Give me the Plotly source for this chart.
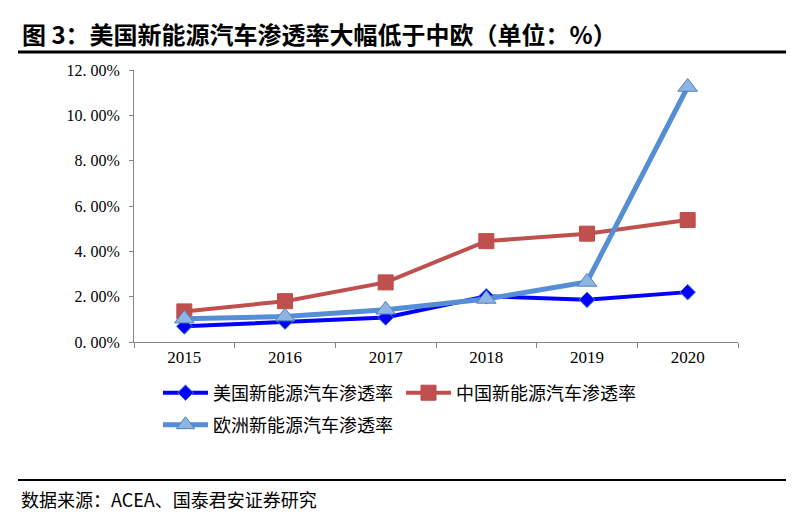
import plotly.graph_objects as go

years = ["2015", "2016", "2017", "2018", "2019", "2020"]
us_vals = [0.69, 0.90, 1.08, 2.02, 1.86, 2.20]
cn_vals = [1.35, 1.80, 2.63, 4.45, 4.78, 5.38]
eu_vals = [1.03, 1.12, 1.42, 1.90, 2.65, 11.25]
series_names = ["美国新能源汽车渗透率", "中国新能源汽车渗透率", "欧洲新能源汽车渗透率"]
y_tickvals = [0, 2, 4, 6, 8, 10, 12]
y_ticktext = ["0. 00%", "2. 00%", "4. 00%", "6. 00%", "8. 00%", "10. 00%", "12. 00%"]
title_text = "图 3：美国新能源汽车渗透率大幅低于中欧（单位：%）"
source_text = "数据来源：ACEA、国泰君安证券研究"

# page body has an 8px margin: design in screen coords and shift by OFF
OFF = 8
W, H = 799 - 2 * OFF, 523 - 2 * OFF
L, R, T, B = 134 - OFF, 738 - OFF, 70 - OFF, 342 - OFF
pw, ph = R - L, B - T


def px(x):
    return (x - OFF - L) / pw


def py(y):
    return (B - (y - OFF)) / ph


CJK = "Noto Sans CJK SC"
SERIF = "Liberation Serif"

fig = go.Figure()
fig.add_trace(go.Scatter(
    x=years, y=us_vals, name=series_names[0], mode="lines+markers",
    line=dict(color="#0000FF", width=4),
    marker=dict(symbol="diamond", size=12, color="#0000FF",
                line=dict(color="#4A7EBB", width=1)),
    legend="legend"))
fig.add_trace(go.Scatter(
    x=years, y=cn_vals, name=series_names[1], mode="lines+markers",
    line=dict(color="#C0504D", width=4),
    marker=dict(symbol="square", size=15, color="#C0504D",
                line=dict(color="#BE4B48", width=1)),
    legend="legend"))
fig.add_trace(go.Scatter(
    x=years, y=eu_vals, name=series_names[2], mode="lines+markers",
    line=dict(color="#558ED5", width=5),
    marker=dict(symbol="triangle-up", size=17, color="#8EB4E3",
                line=dict(color="#4F81BD", width=1)),
    legend="legend2"))

fig.update_layout(
    width=W, height=H,
    margin=dict(l=L, r=W - R, t=T, b=H - B),
    paper_bgcolor="white", plot_bgcolor="white",
    showlegend=True,
    legend=dict(orientation="h", x=px(158), xanchor="left", y=py(393), yanchor="middle",
                font=dict(family=CJK, size=18, color="black"),
                itemwidth=45, entrywidth=183, entrywidthmode="pixels",
                bgcolor="rgba(0,0,0,0)", borderwidth=0),
    legend2=dict(orientation="h", x=px(158), xanchor="left", y=py(425), yanchor="middle",
                 font=dict(family=CJK, size=18, color="black"),
                 itemwidth=45,
                 bgcolor="rgba(0,0,0,0)", borderwidth=0),
    xaxis=dict(type="category", range=[-0.5, len(years) - 0.5],
               showline=True, linecolor="#868686", linewidth=1,
               ticks="outside", tickson="boundaries", ticklen=5, tickcolor="#868686",
               showgrid=False, zeroline=False,
               tickfont=dict(family=SERIF, size=17, color="black")),
    yaxis=dict(range=[0, 12], tickvals=y_tickvals, ticktext=y_ticktext,
               showline=True, linecolor="#868686", linewidth=1,
               ticks="outside", ticklen=4, tickcolor="#868686",
               ticklabelstandoff=6,
               showgrid=False, zeroline=False,
               tickfont=dict(family=SERIF, size=16, color="black")),
    annotations=[
        dict(text="<b>" + title_text + "</b>", xref="paper", yref="paper",
             x=px(20), y=py(33), xanchor="left", yanchor="middle", showarrow=False,
             font=dict(family=CJK, size=24, color="black")),
        dict(text=source_text, xref="paper", yref="paper",
             x=px(19), y=py(499), xanchor="left", yanchor="middle", showarrow=False,
             font=dict(family=CJK, size=18, color="black")),
    ],
    shapes=[
        dict(type="line", xref="paper", yref="paper", x0=px(18), x1=px(786),
             y0=py(52), y1=py(52), line=dict(color="black", width=3)),
        dict(type="line", xref="paper", yref="paper", x0=px(18), x1=px(786),
             y0=py(480), y1=py(480), line=dict(color="black", width=2)),
    ],
)

fig.write_html("out.html")
